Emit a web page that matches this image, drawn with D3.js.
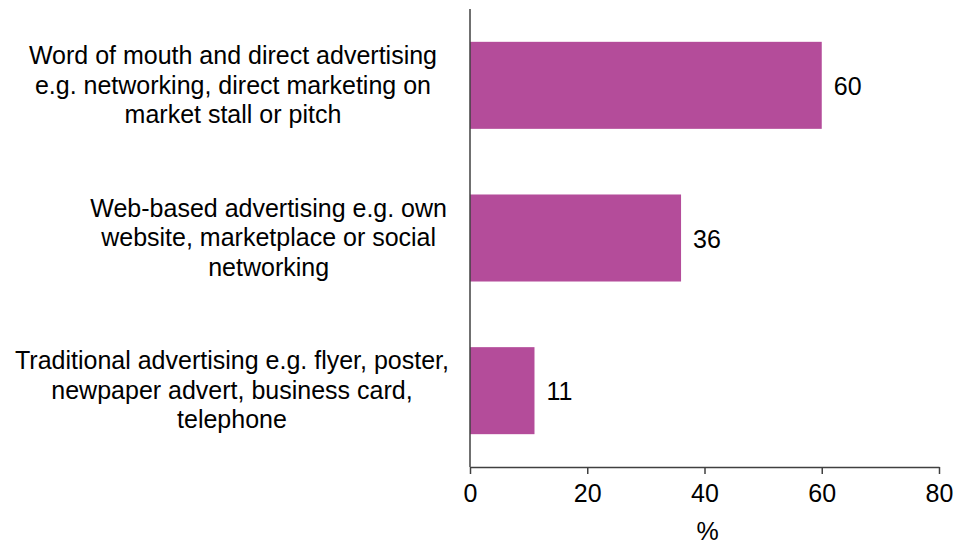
<!DOCTYPE html>
<html>
<head>
<meta charset="utf-8">
<script src="https://cdn.jsdelivr.net/npm/d3@7"></script>
<style>
  html, body { margin: 0; padding: 0; background: #fff; }
  svg { display: block; }
  text { font-family: "Liberation Sans", Arial, sans-serif; fill: #000; }
</style>
</head>
<body>
<svg id="chart" width="953" height="546"></svg>
<script>
// Share of respondents using each advertising channel (%)
const categories = [
  "Word of mouth and direct advertising e.g. networking, direct marketing on market stall or pitch",
  "Web-based advertising e.g. own website, marketplace or social networking",
  "Traditional advertising e.g. flyer, poster, newpaper advert, business card, telephone"
];
// Wrapped lines for each category label
const categoryLines = [
  ["Word of mouth and direct advertising", "e.g. networking, direct marketing on", "market stall or pitch"],
  ["Web-based advertising e.g. own", "website, marketplace or social", "networking"],
  ["Traditional advertising e.g. flyer, poster,", "newpaper advert, business card,", "telephone"]
];
const values = [60, 36, 11];
const xTicks = [0, 20, 40, 60, 80];
const xTitle = "%";

(function draw() {
  const svg = d3.select("#chart");
  const plotLeft = 470, plotRight = 939, plotTop = 9, plotBottom = 467;
  const fontSize = 25;
  const barColor = "#B44C9A";
  const axisColor = "#404040";

  const x = d3.scaleLinear().domain([0, 80]).range([plotLeft, plotRight]);
  const y = d3.scaleBand()
    .domain(categories)
    .range([plotTop, plotBottom])
    .paddingInner(0.43)
    .paddingOuter(0.215);

  // Bars
  svg.append("g").selectAll("rect")
    .data(values)
    .join("rect")
    .attr("x", x(0))
    .attr("y", (d, i) => y(categories[i]))
    .attr("width", d => x(d) - x(0))
    .attr("height", y.bandwidth())
    .attr("fill", barColor);

  // Value labels
  svg.append("g").selectAll("text")
    .data(values)
    .join("text")
    .attr("x", d => x(d) + 12)
    .attr("y", (d, i) => y(categories[i]) + y.bandwidth() / 2)
    .attr("dy", "0.38em")
    .attr("font-size", fontSize)
    .text(d => d);

  // X axis
  const xAxis = d3.axisBottom(x).tickValues(xTicks).tickSize(7).tickPadding(10).tickSizeOuter(0);
  const gx = svg.append("g").attr("transform", `translate(0,${plotBottom})`).call(xAxis);
  gx.select(".domain").attr("stroke", axisColor).attr("stroke-width", 1.5);
  gx.selectAll(".tick line").attr("stroke", axisColor).attr("stroke-width", 1.5);
  gx.selectAll(".tick text")
    .attr("font-size", fontSize)
    .attr("font-family", "Liberation Sans, Arial, sans-serif")
    .attr("fill", "#000");

  // Y axis line
  svg.append("line")
    .attr("x1", x(0)).attr("x2", x(0))
    .attr("y1", plotTop).attr("y2", plotBottom)
    .attr("stroke", axisColor).attr("stroke-width", 1.5);

  // X axis title
  svg.append("text")
    .attr("x", (plotLeft + plotRight) / 2 + 3)
    .attr("y", 540)
    .attr("text-anchor", "middle")
    .attr("font-size", fontSize)
    .text(xTitle);

  // Category labels: each block of lines is centred, block right edge near the axis
  const labelRight = [437, 447, 449];
  const lineHeight = 29.5;
  categoryLines.forEach((lines, i) => {
    const cy = y(categories[i]) + y.bandwidth() / 2;
    const g = svg.append("g");
    const texts = lines.map((line, j) => g.append("text")
      .attr("y", cy + (j - (lines.length - 1) / 2) * lineHeight)
      .attr("dy", "0.33em")
      .attr("text-anchor", "middle")
      .attr("font-size", fontSize)
      .text(line));
    const maxW = d3.max(texts, t => t.node().getComputedTextLength());
    texts.forEach(t => t.attr("x", labelRight[i] - maxW / 2));
  });
})();
</script>
</body>
</html>
